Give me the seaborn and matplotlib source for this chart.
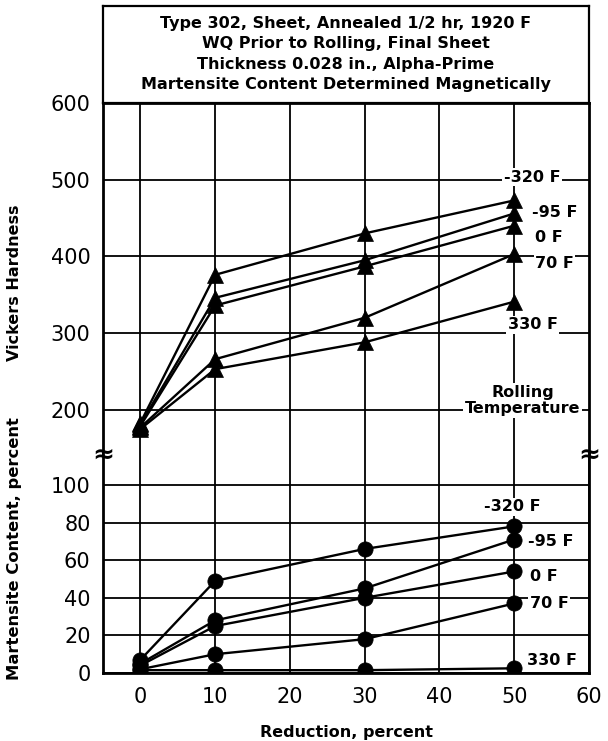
import matplotlib
matplotlib.use("Agg")
import matplotlib.pyplot as plt
import seaborn as sns
import pandas as pd

# ---- data ----
reduction = [0, 10, 30, 50]
temps = ["-320 F", "-95 F", "0 F", "70 F", "330 F"]
hardness_m320 = [183, 376, 430, 473]
hardness_m95 = [181, 346, 395, 456]
hardness_0 = [179, 336, 387, 440]
hardness_70 = [177, 266, 320, 403]
hardness_330 = [175, 253, 288, 341]
mart_m320 = [7, 49, 66, 78]
mart_m95 = [5, 28, 45, 71]
mart_0 = [4, 25, 40, 54]
mart_70 = [2, 10, 18, 37]
mart_330 = [1.5, 1.5, 1.5, 2.5]
x_ticks = [0, 10, 20, 30, 40, 50, 60]
hard_ticks = [200, 300, 400, 500, 600]
mart_ticks = [0, 20, 40, 60, 80, 100]
title_lines = ["Type 302, Sheet, Annealed 1/2 hr, 1920 F",
               "WQ Prior to Rolling, Final Sheet",
               "Thickness 0.028 in., Alpha-Prime",
               "Martensite Content Determined Magnetically"]

hard_series = [hardness_m320, hardness_m95, hardness_0, hardness_70, hardness_330]
mart_series = [mart_m320, mart_m95, mart_0, mart_70, mart_330]
rows = []
for t, h, m in zip(temps, hard_series, mart_series):
    for r, hv, mv in zip(reduction, h, m):
        rows.append({"reduction": r, "temp": t, "hardness": hv, "martensite": mv})
df = pd.DataFrame(rows)

sns.set_style("white")
plt.rcParams['font.family'] = ['DejaVu Sans']
plt.rcParams['text.color'] = 'black'
plt.rcParams['axes.labelcolor'] = 'black'
plt.rcParams['xtick.color'] = 'black'
plt.rcParams['ytick.color'] = 'black'

W_PX, H_PX = 608, 741
fig = plt.figure(figsize=(W_PX / 100, H_PX / 100), dpi=100)

left_px, right_px = 103, 589
L = left_px / W_PX
W = (right_px - left_px) / W_PX

def fy(px):
    return 1 - px / H_PX

top_box, y600, y_break, y0 = 6, 103, 453, 673
ax_t = fig.add_axes([L, fy(y600), W, (y600 - top_box) / H_PX])
ax_u = fig.add_axes([L, fy(y_break), W, (y_break - y600) / H_PX])
ax_l = fig.add_axes([L, fy(y0), W, (y0 - y_break) / H_PX])

frame_lw = 2.0
grid_lw = 1.3
line_lw = 1.7
black = ["black"] * len(temps)

# title box
ax_t.set_xticks([]); ax_t.set_yticks([])
for s in ax_t.spines.values():
    s.set_linewidth(1.6); s.set_color("black")
fig.text((left_px + right_px) / 2 / W_PX, fy(54), "\n".join(title_lines),
         ha="center", va="center", fontsize=11.5, fontweight="bold",
         linespacing=1.42)

# upper: hardness
sns.lineplot(data=df, x="reduction", y="hardness", hue="temp", hue_order=temps,
             palette=black, marker="^", markersize=11, markeredgecolor="black",
             markeredgewidth=0.5, linewidth=line_lw, legend=False, ax=ax_u, zorder=4)
ax_u.set_xlim(-5, 60)
ax_u.set_ylim(600 - (y_break - y600) / 0.767, 600)
ax_u.set_xticks(x_ticks[:-1])
ax_u.set_yticks(hard_ticks)
ax_u.tick_params(axis="x", length=0, labelbottom=False)
ax_u.tick_params(axis="y", length=0, pad=9, labelsize=15)
ax_u.grid(True, color="black", linewidth=grid_lw, zorder=1)
ax_u.set_xlabel("")
ax_u.set_ylabel("Vickers Hardness", fontsize=11.5, fontweight="bold")
ax_u.yaxis.set_label_coords((22 - left_px) / (right_px - left_px), (y_break - 283) / (y_break - y600))
ax_u.spines["bottom"].set_visible(False)
for k in ["left", "right", "top"]:
    ax_u.spines[k].set_linewidth(frame_lw); ax_u.spines[k].set_color("black")

bb = dict(facecolor="white", edgecolor="none", pad=1.0)
up_lab_x = [52.4, 55.4, 54.6, 55.4, 52.5]
up_lab_y = [503, 457, 425, 391, 311]
for t, lx, ly in zip(temps, up_lab_x, up_lab_y):
    ax_u.text(lx, ly, t, ha="center", va="center", fontsize=11.5,
              fontweight="bold", bbox=bb, zorder=3)
ax_u.text(51.1, 212, "Rolling\nTemperature", ha="center", va="center",
          fontsize=11.5, fontweight="bold", bbox=bb, zorder=3, linespacing=1.15)

# lower: martensite
sns.lineplot(data=df, x="reduction", y="martensite", hue="temp", hue_order=temps,
             palette=black, marker="o", markersize=11, markeredgecolor="black",
             markeredgewidth=0.5, linewidth=line_lw, legend=False, ax=ax_l, zorder=4)
ax_l.set_xlim(-5, 60)
ax_l.set_ylim(0, (y0 - y_break) / 1.88)
ax_l.set_xticks(x_ticks)
ax_l.set_yticks(mart_ticks)
ax_l.tick_params(axis="x", length=0, pad=10, labelsize=15)
ax_l.tick_params(axis="y", length=0, pad=9, labelsize=15)
ax_l.grid(True, color="black", linewidth=grid_lw, zorder=1)
ax_l.set_ylabel("Martensite Content, percent", fontsize=11.8, fontweight="bold")
ax_l.yaxis.set_label_coords((22 - left_px) / (right_px - left_px), (y0 - 549) / (y0 - y_break))
ax_l.set_xlabel("Reduction, percent", fontsize=11.5, fontweight="bold")
ax_l.xaxis.set_label_coords(0.5, (y0 - 725) / (y0 - y_break))
ax_l.spines["top"].set_visible(False)
for k in ["left", "right", "bottom"]:
    ax_l.spines[k].set_linewidth(frame_lw); ax_l.spines[k].set_color("black")

lo_lab_x = [49.7, 54.9, 53.9, 54.7, 55.1]
lo_lab_y = [88.3, 69.8, 51.2, 37.2, 6.9]
for t, lx, ly in zip(temps, lo_lab_x, lo_lab_y):
    ax_l.text(lx, ly, t, ha="center", va="center", fontsize=11.5,
              fontweight="bold", bbox=bb, zorder=3)

# axis break marks
for xp in (left_px, right_px):
    fig.text(xp / W_PX, fy(455), "≈", ha="center", va="center",
             fontsize=19, fontweight="bold")

fig.savefig("out.png", dpi=100, facecolor="white")
